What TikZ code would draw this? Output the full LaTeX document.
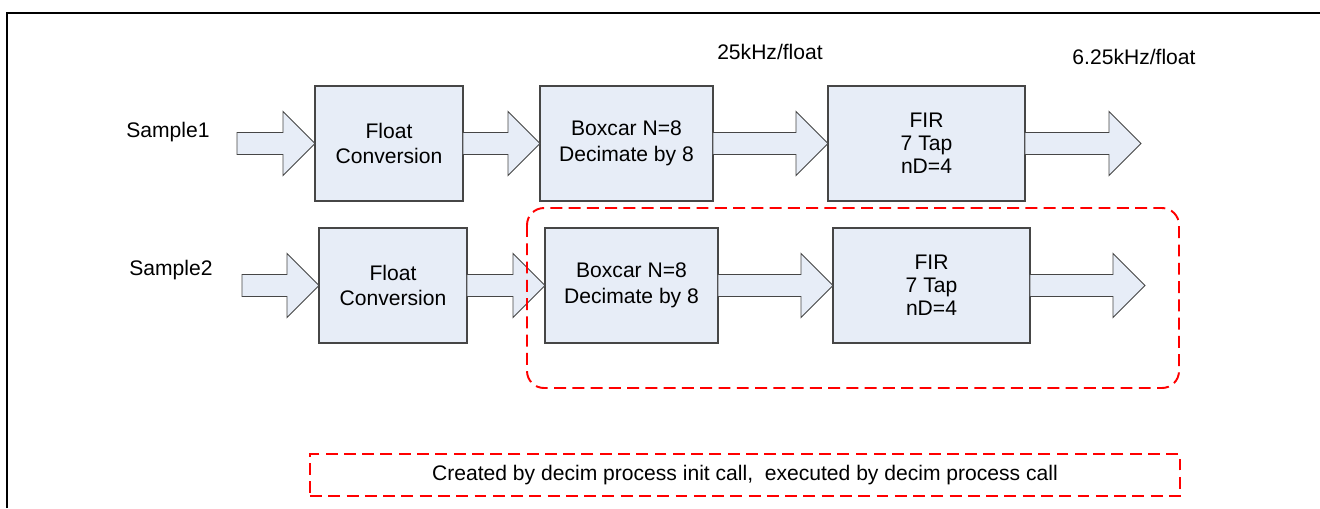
\documentclass[tikz,border=0pt]{standalone}
\usepackage{fontspec}
\setmainfont{Liberation Sans}
\usepackage{tikz}
\usetikzlibrary{calc, positioning}
\definecolor{boxfill}{RGB}{231, 237, 247}
\definecolor{edgegray}{RGB}{70, 70, 70}
\definecolor{grpred}{RGB}{255, 0, 0}

\tikzset{
  procbox/.style={draw=edgegray, fill=boxfill, line width=0.6pt, minimum height=2.3cm,
    inner sep=0pt, outer sep=0pt, align=center, font=\fontsize{12}{14.5}\selectfont},
  fatline/.style={draw=edgegray, fill=boxfill, line width=0.5pt, line join=miter},
  grpline/.style={draw=grpred, line width=1.1pt, dash pattern=on 6.8pt off 3.6pt},
  lbl/.style={font=\fontsize{12}{14}\selectfont, inner sep=0pt}
}

% fat block arrow from one anchor to another
\newcommand\fatarrow[2]{%
  \path[fatline] let \p1=(#1), \p2=(#2) in
    (\x1,\y1+0.22cm) -- (\x2-0.64cm,\y1+0.22cm) -- (\x2-0.64cm,\y1+0.64cm) -- (\x2,\y1)
    -- (\x2-0.64cm,\y1-0.64cm) -- (\x2-0.64cm,\y1-0.22cm) -- (\x1,\y1-0.22cm) -- cycle;}

\begin{document}
\begin{tikzpicture}[x=0.02cm, y=-0.02cm]
  \useasboundingbox (0,0) rectangle (1320,508);
  \draw[line width=1.4pt] (7,508) |- (1320,13);

  % upper chain
  \node[lbl] (s1) at (168,132) {Sample1};
  \coordinate (in1) at (237,143.5);
  \node[procbox, minimum width=2.96cm] (float1) at (389,143.5) {Float\\Conversion};
  \node[procbox, minimum width=3.46cm] (boxcar1) at (626.5,143.5) {Boxcar N=8\\Decimate by 8};
  \node[procbox, minimum width=3.94cm, font=\fontsize{12}{13}\selectfont] (fir1) at (926.5,143.5) {FIR\\7 Tap\\nD=4};
  \coordinate (out1) at (1141,143.5);
  \fatarrow{in1}{float1.west}
  \fatarrow{float1.east}{boxcar1.west}
  \fatarrow{boxcar1.east}{fir1.west}
  \fatarrow{fir1.east}{out1}
  \node[lbl] (rate1) at (770,52) {25kHz/float};
  \node[lbl] (rate2) at (1134,57) {6.25kHz/float};

  % lower chain
  \node[lbl] (s2) at (171,270) {Sample2};
  \coordinate (in2) at (242,285.5);
  \node[procbox, minimum width=2.96cm] (float2) at (393,285.5) {Float\\Conversion};
  \node[procbox, minimum width=3.46cm] (boxcar2) at (631.5,285.5) {Boxcar N=8\\Decimate by 8};
  \node[procbox, minimum width=3.94cm, font=\fontsize{12}{13}\selectfont] (fir2) at (931.5,285.5) {FIR\\7 Tap\\nD=4};
  \coordinate (out2) at (1145,285.5);
  \fatarrow{in2}{float2.west}
  \fatarrow{float2.east}{boxcar2.west}
  \fatarrow{boxcar2.east}{fir2.west}
  \fatarrow{fir2.east}{out2}

  % decim group
  \draw[grpline, rounded corners=0.34cm] (527,208) rectangle (1179,388);
  \node[grpline, minimum width=17.4cm, minimum height=0.84cm, inner sep=0pt,
    font=\fontsize{12}{14}\selectfont] (note) at (745,475)
    {Created by decim process init call,\ \ executed by decim process call};
\end{tikzpicture}
\end{document}
